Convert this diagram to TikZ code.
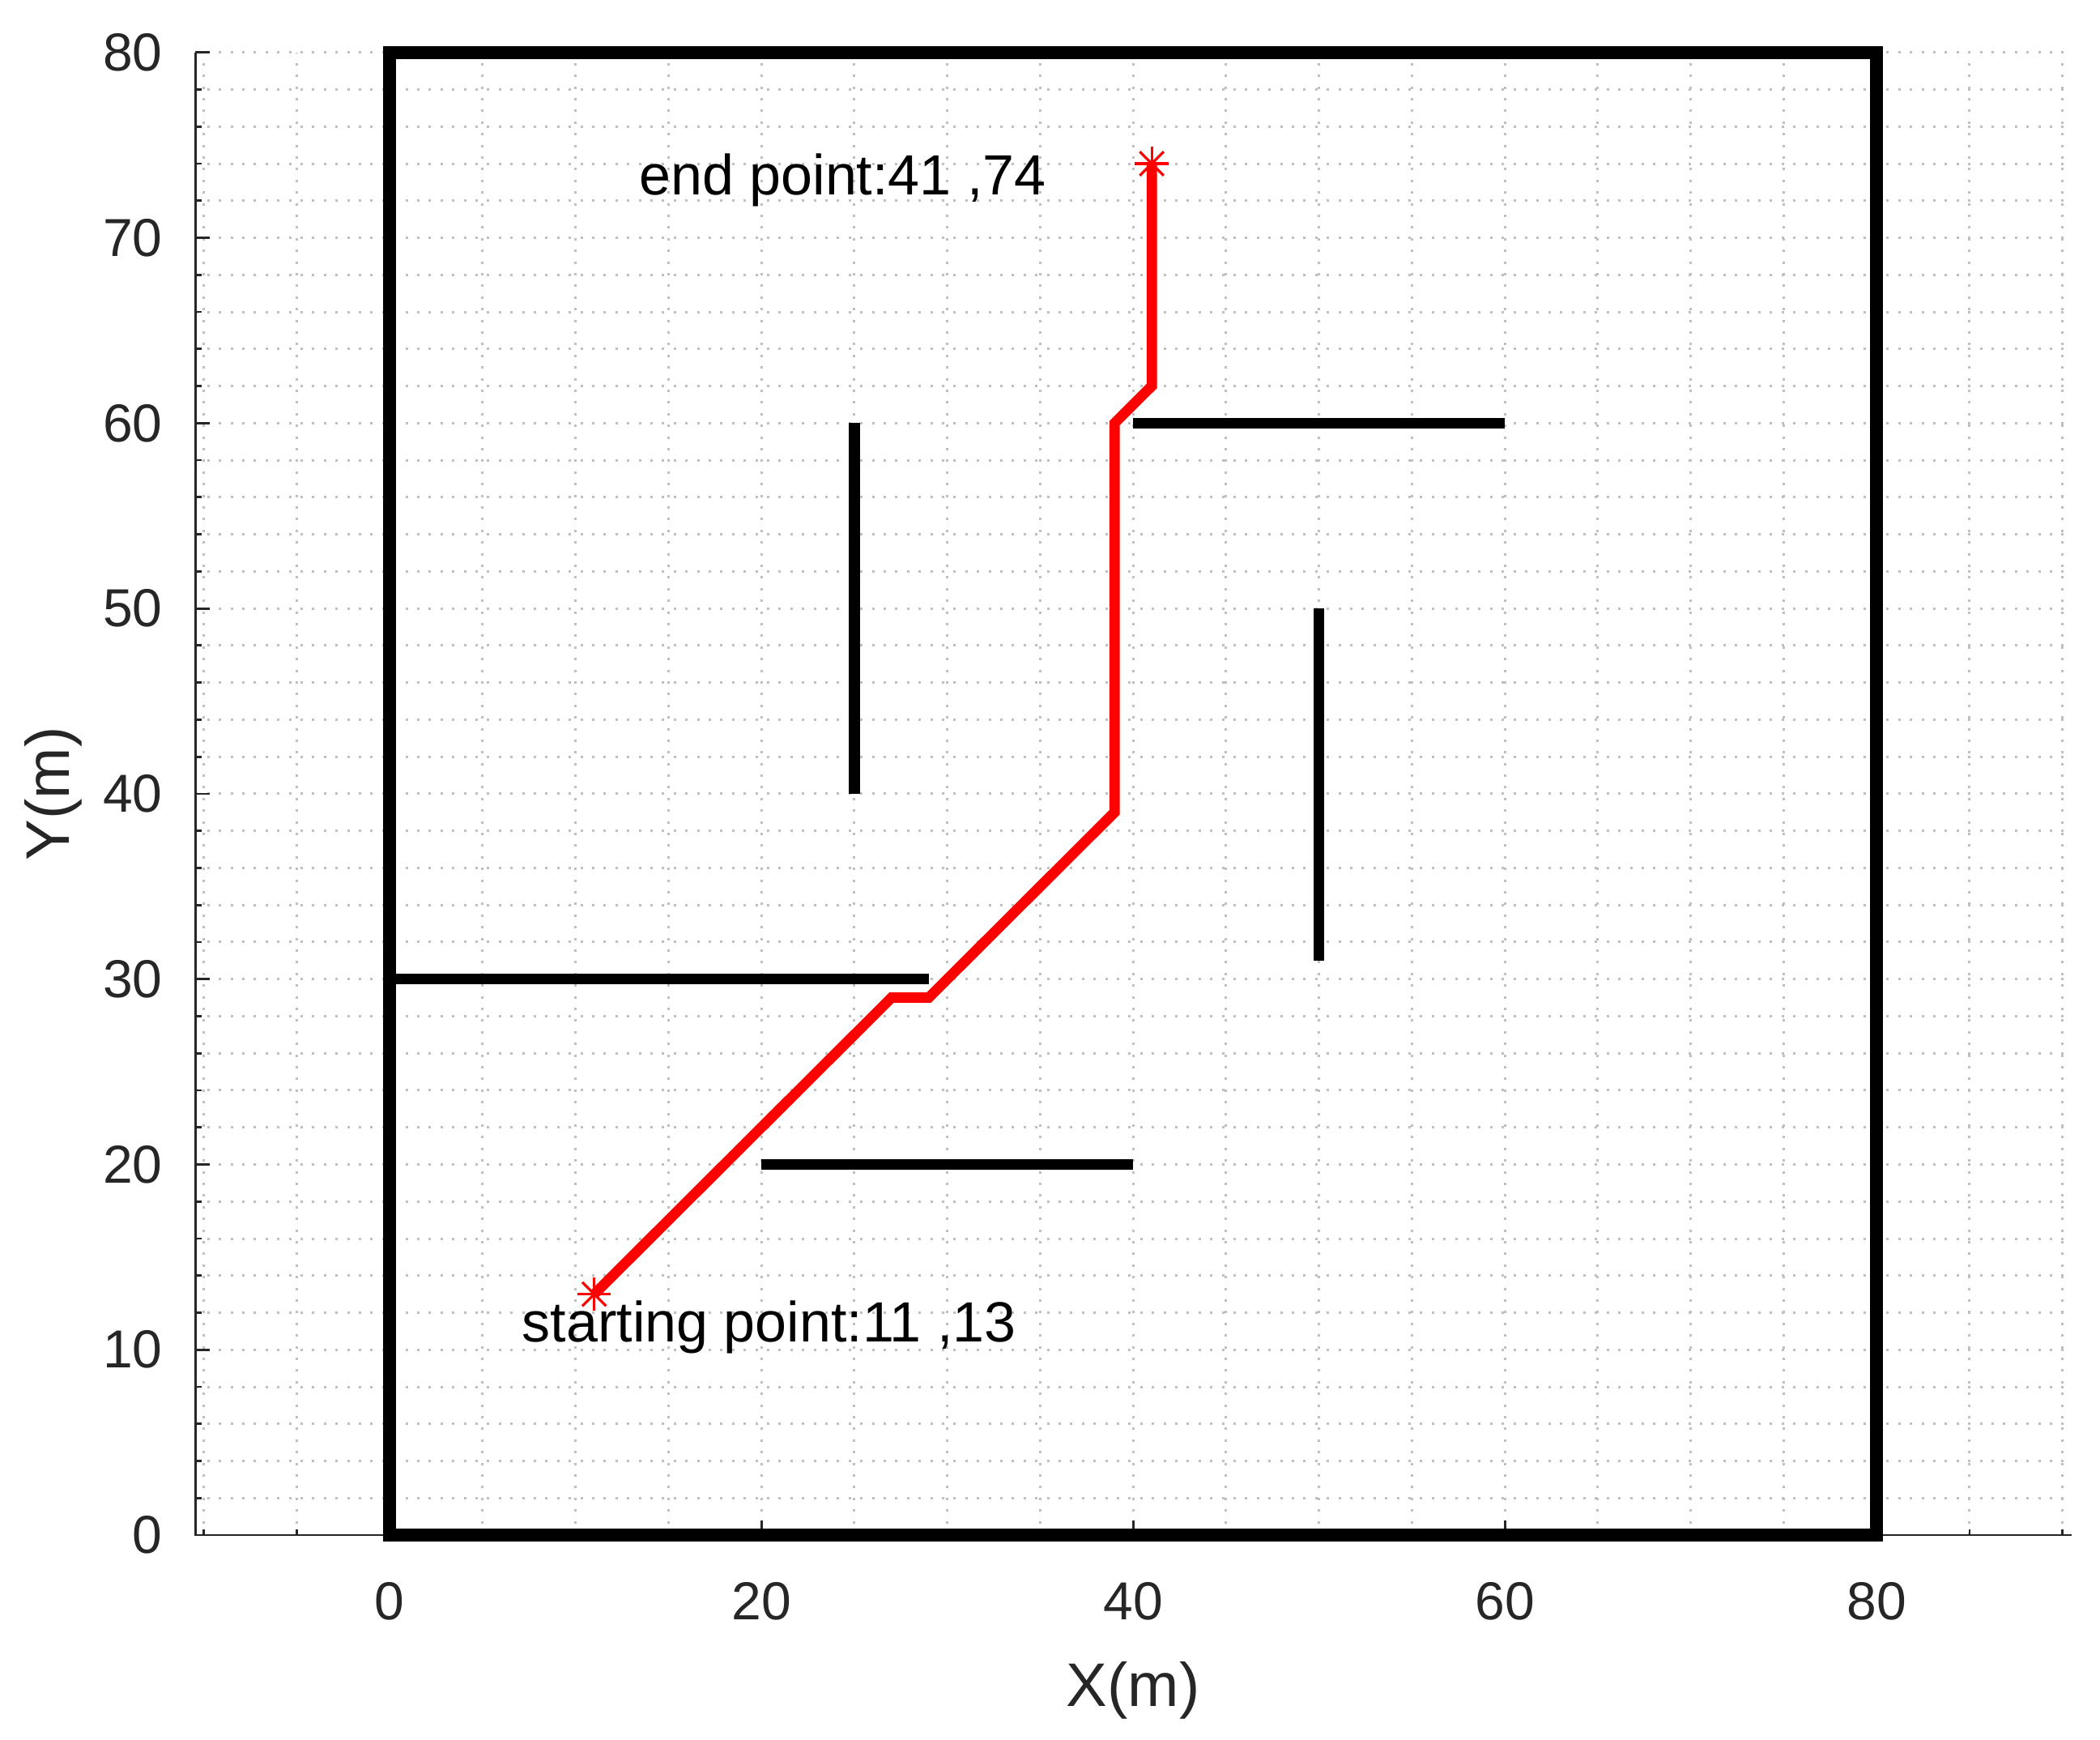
\documentclass[tikz,border=0pt]{standalone}
\usepackage{fontspec}
\setmainfont{Liberation Sans}
\begin{document}
\begin{tikzpicture}[x=5.7375pt, y=5.72pt,
  gridline/.style={draw=black!25, line width=0.75pt, dash pattern=on 0.75pt off 2.85pt},
  axisline/.style={draw=black!85, line width=0.7pt},
  wall/.style={draw=black, line width=3.3pt, line cap=butt},
  border/.style={draw=black, line width=4pt},
  route/.style={draw=red, line width=3.2pt, line join=miter},
  ticklab/.style={font=\fontsize{16.5}{19}\selectfont, text=black!85, inner sep=0pt},
  axlab/.style={font=\fontsize{19}{23}\selectfont, text=black!85, inner sep=0pt},
  note/.style={font=\fontsize{17.5}{21}\selectfont, inner sep=0pt, anchor=west},
  starline/.style={draw=red, line width=0.8pt}
]
\useasboundingbox (-20.97,-11.05) rectangle (92.02,82.83);
\fill[white] (-20.97,-11.05) rectangle (92.02,82.83);
% grid
\foreach \y in {2,4,...,80} \draw[gridline] (-10.45,\y) -- (90.5,\y);
\foreach \x in {-10,-5,...,90} \draw[gridline] (\x,0) -- (\x,80);
% axes
\draw[axisline] (-10.45,80) -- (-10.45,0) -- (90.5,0);
\foreach \y in {2,4,...,80} \draw[axisline] (-10.45,\y) -- ++(1.8pt,0);
\foreach \y in {0,10,...,80} \draw[axisline] (-10.45,\y) -- ++(4.5pt,0);
\foreach \x in {-10,-5,...,90} \draw[axisline] (\x,0) -- ++(0,1.8pt);
\foreach \x in {0,20,...,80} \draw[axisline] (\x,0) -- ++(0,4.5pt);
% tick labels
\foreach \y in {0,10,...,80} \node[ticklab, anchor=east] (yl\y) at (-12.2,\y) {\y};
\foreach \x in {0,20,...,80} \node[ticklab, anchor=north] (xl\x) at (\x,-2.5) {\x};
\node[axlab, anchor=north] (xlab) at (40,-6.8) {X(m)};
\node[axlab, rotate=90] (ylab) at (-18.1,40) {Y(m)};
% walls
\draw[border] (0,0) rectangle (80,80);
\draw[wall] (0,30) -- (29,30);
\draw[wall] (20,20) -- (40,20);
\draw[wall] (40,60) -- (60,60);
\draw[wall] (25,40) -- (25,60);
\draw[wall] (50,31) -- (50,50);
% route
\coordinate (s) at (11,13);
\coordinate (p1) at (27,29);
\coordinate (p2) at (29,29);
\coordinate (p3) at (39,39);
\coordinate (p4) at (39,60);
\coordinate (p5) at (41,62);
\coordinate (e) at (41,74);
\draw[route] (s) -- (p1) -- (p2) -- (p3) -- (p4) -- (p5) -- (e);
\foreach \c in {s,e} {
  \foreach \a in {0,45,90,135} {
    \draw[starline] (\c) -- ++(\a:5.2pt);
    \draw[starline] (\c) -- ++(\a+180:5.2pt);
  }
}
% notes
\node[note] (endlab) at (13.4,73.1) {end point:41 ,74};
\node[note] (startlab) at (7.1,11.2) {starting point:11 ,13};
\end{tikzpicture}
\end{document}
